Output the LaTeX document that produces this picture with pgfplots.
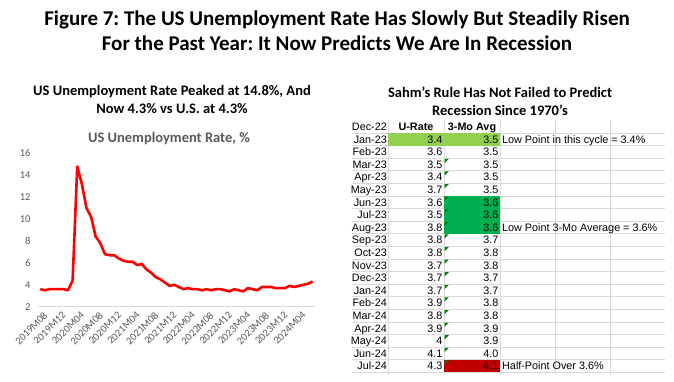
\documentclass[border=0pt]{standalone}
\usepackage{pgfplots}
\pgfplotsset{compat=1.18}
\usepackage{fontspec}
\setmainfont{Carlito}
\newfontfamily\arialf{Liberation Sans}
\frenchspacing
\definecolor{tickgray}{HTML}{595959}
\definecolor{lgreen}{HTML}{92D050}
\definecolor{mgreen}{HTML}{00B050}
\definecolor{dred}{HTML}{C00000}
\definecolor{gridc}{HTML}{DADADA}
\definecolor{axc}{HTML}{D9D9D9}
\definecolor{tri}{HTML}{008000}
\pgfplotstableread{
i u
0 3.6
1 3.5
2 3.6
3 3.6
4 3.6
5 3.6
6 3.5
7 4.4
8 14.8
9 13.2
10 11.0
11 10.2
12 8.4
13 7.8
14 6.8
15 6.7
16 6.7
17 6.4
18 6.2
19 6.1
20 6.1
21 5.8
22 5.9
23 5.4
24 5.1
25 4.7
26 4.5
27 4.2
28 3.9
29 4.0
30 3.8
31 3.6
32 3.7
33 3.6
34 3.6
35 3.5
36 3.6
37 3.5
38 3.6
39 3.6
40 3.5
41 3.4
42 3.6
43 3.5
44 3.4
45 3.7
46 3.6
47 3.5
48 3.8
49 3.8
50 3.8
51 3.7
52 3.7
53 3.7
54 3.9
55 3.8
56 3.9
57 4.0
58 4.1
59 4.3
}\urate
\begin{document}
\begin{tikzpicture}
\path[use as bounding box] (0,0) rectangle (674bp,-382bp);
\begin{axis}[
  at={(38bp,-306.7bp)}, anchor=south west,
  scale only axis, width=277bp, height=153.4bp,
  xmin=-0.5, xmax=59.5, ymin=2, ymax=16,
  ytick={2,4,...,16},
  xtick={0,4,...,56},
  xticklabels={2019M08,2019M12,2020M04,2020M08,2020M12,2021M04,2021M08,2021M12,2022M04,2022M08,2022M12,2023M04,2023M08,2023M12,2024M04},
  axis x line*=bottom, axis y line*=left,
  x axis line style={-, draw=axc, line width=0.8bp},
  y axis line style={draw=none},
  major tick length=0pt,
  tick label style={font=\fontsize{10.5bp}{12bp}\selectfont, text=tickgray},
  /pgf/number format/assume math mode=true,
  yticklabel style={xshift=-4bp},
  xticklabel style={rotate=45, anchor=north east, inner sep=1bp, yshift=-4bp},
  clip=false,
]
\addplot[draw=red, line width=2.6bp, line join=round, no markers] table[x=i, y=u] {\urate};
\end{axis}
\begin{scope}[x=1bp, y=-1bp]
% titles
\node[anchor=base, font=\fontsize{21bp}{25bp}\selectfont\bfseries] at (337,25.5) {Figure 7: The US Unemployment Rate Has Slowly But Steadily Risen};
\node[anchor=base, font=\fontsize{21bp}{25bp}\selectfont\bfseries] at (337,50.5) {For the Past Year: It Now Predicts We Are In Recession};
\node[anchor=base, font=\fontsize{14.5bp}{17bp}\selectfont\bfseries] at (172,95) {US Unemployment Rate Peaked at 14.8\%, And};
\node[anchor=base, font=\fontsize{14.5bp}{17bp}\selectfont\bfseries] at (172,113.5) {Now 4.3\% vs U.S. at 4.3\%};
\node[anchor=base, font=\fontsize{14.5bp}{17bp}\selectfont\bfseries] at (500,97) {Sahm’s Rule Has Not Failed to Predict};
\node[anchor=base, font=\fontsize{14.5bp}{17bp}\selectfont\bfseries] at (500,115) {Recession Since 1970’s};
\node[anchor=base, text=tickgray, font=\fontsize{14.5bp}{17bp}\selectfont\bfseries] at (169,142) {US Unemployment Rate, \%};
% table grid
\foreach \k in {1,...,20} {
  \draw[gridc, line width=0.7bp] (352,{120.4+12.6*\k}) -- (665,{120.4+12.6*\k});
}
\foreach \xx in {388,444,500,555.5,610.5} {
  \draw[gridc, line width=0.7bp] (\xx,120.4) -- (\xx,375);
}
% fills
\fill[lgreen] (388,133) rectangle (500,145.6);
\fill[mgreen] (444,196) rectangle (500,233.8);
\fill[dred] (444,359.8) rectangle (500,372.4);
% error triangles
\foreach \k in {3,...,19} {
  \fill[tri] (444.6,{120.4+12.6*\k+0.6}) -- (448.8,{120.4+12.6*\k+0.6}) -- (444.6,{120.4+12.6*\k+4.8}) -- cycle;
}
% header
\begin{scope}[font=\arialf\fontsize{10.8bp}{12bp}\selectfont]
\node[anchor=base east, inner sep=0] at (387,130.5) {Dec-22};
\node[anchor=base, inner sep=0, font=\arialf\bfseries\fontsize{10.8bp}{12bp}\selectfont] at (416,130.5) {U-Rate};
\node[anchor=base, inner sep=0, font=\arialf\bfseries\fontsize{10.8bp}{12bp}\selectfont] at (472,130.5) {3-Mo Avg};
\foreach \k/\d/\u/\m in {1/Jan-23/3.4/3.5, 2/Feb-23/3.6/3.5, 3/Mar-23/3.5/3.5, 4/Apr-23/3.4/3.5, 5/May-23/3.7/3.5, 6/Jun-23/3.6/3.6, 7/Jul-23/3.5/3.6, 8/Aug-23/3.8/3.6, 9/Sep-23/3.8/3.7, 10/Oct-23/3.8/3.8, 11/Nov-23/3.7/3.8, 12/Dec-23/3.7/3.7, 13/Jan-24/3.7/3.7, 14/Feb-24/3.9/3.8, 15/Mar-24/3.8/3.8, 16/Apr-24/3.9/3.9, 17/May-24/4/3.9, 18/Jun-24/4.1/4.0, 19/Jul-24/4.3/4.1} {
  \node[anchor=base east, inner sep=0] at (387,{130.5+12.6*\k}) {\d};
  \node[anchor=base east, inner sep=0] at (442.5,{130.5+12.6*\k}) {\u};
  \node[anchor=base east, inner sep=0] at (498.5,{130.5+12.6*\k}) {\m};
}
\node[anchor=base west, inner sep=0] at (502,143.1) {Low Point in this cycle = 3.4\%};
\node[anchor=base west, inner sep=0] at (502,231.3) {Low Point 3-Mo Average = 3.6\%};
\node[anchor=base west, inner sep=0] at (502,369.9) {Half-Point Over 3.6\%};
\end{scope}
\end{scope}
\end{tikzpicture}
\end{document}
